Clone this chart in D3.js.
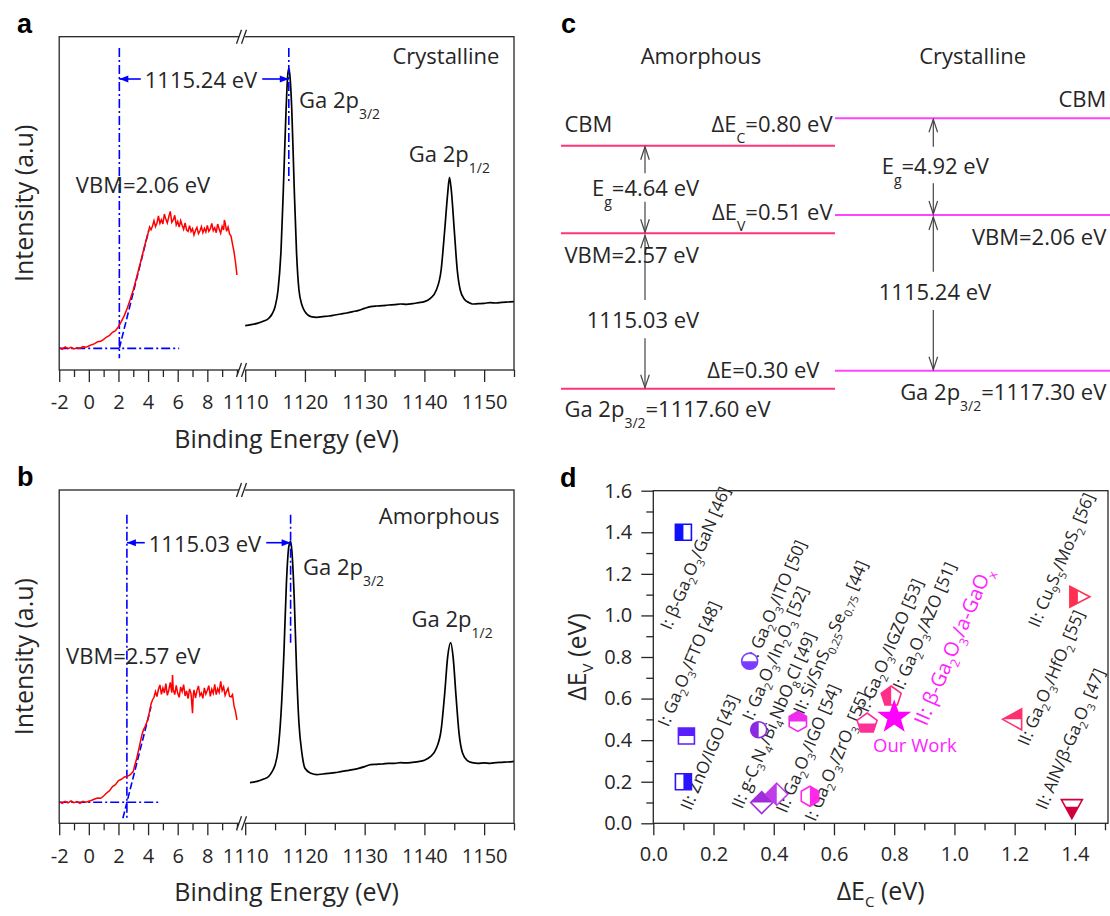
<!DOCTYPE html>
<html>
<head>
<meta charset="utf-8">
<script src="https://cdn.jsdelivr.net/npm/d3@7"></script>
<style>
  body { margin: 0; background: #fff; }
  text { font-family: "Open Sans", sans-serif; fill: #262626; white-space: pre; }
</style>
</head>
<body>
<svg id="fig" width="1110" height="916"></svg>
<script>
// ---------------- data ----------------
// valence band spectra (binding energy eV, intensity a.u.)
const vbCryst = [[-2.0,6.7],[-1.8,6.2],[-1.6,6.9],[-1.4,6.4],[-1.2,6.8],[-1.0,6.3],[-0.8,6.7],[-0.6,6.5],[-0.4,7.0],[-0.2,6.8],
  [0.0,7.2],[0.2,7.6],[0.4,7.9],[0.6,8.5],[0.8,8.6],[1.0,9.2],[1.2,9.9],[1.4,10.4],[1.6,11.3],[1.8,11.8],
  [2.0,13.0],[2.2,14.6],[2.4,16.4],[2.6,18.6],[2.8,21.2],[3.0,24.0],[3.2,27.3],[3.4,30.8],[3.6,34.2],[3.8,37.8],
  [4.0,41.0],[4.1,42.9],[4.2,42.1],[4.3,43.2],[4.4,44.8],[4.5,43.0],[4.6,44.1],[4.7,46.2],[4.8,44.0],[4.9,45.1],
  [5.0,43.8],[5.1,46.8],[5.2,45.2],[5.3,44.1],[5.4,46.0],[5.5,47.6],[5.6,44.3],[5.7,45.0],[5.8,46.4],[5.9,43.5],
  [6.0,44.6],[6.1,42.9],[6.2,44.8],[6.3,43.4],[6.4,42.2],[6.5,44.1],[6.6,42.0],[6.7,41.6],[6.8,43.3],[6.9,41.5],
  [7.0,42.4],[7.1,40.5],[7.2,41.9],[7.3,42.8],[7.4,40.9],[7.5,41.7],[7.6,43.0],[7.7,41.2],[7.8,42.5],[7.9,41.4],
  [8.0,43.4],[8.1,41.6],[8.2,42.3],[8.3,44.0],[8.4,41.8],[8.5,42.7],[8.6,41.2],[8.7,43.8],[8.8,42.2],[8.9,41.0],
  [9.0,43.1],[9.1,42.0],[9.15,45.0],[9.2,44.2],[9.3,41.6],[9.4,42.9],[9.5,40.8],[9.6,40.2],[9.7,37.8],[9.8,35.5],
  [9.9,32.4],[10.0,28.5]];
const vbAmor = [[-2.0,6.5],[-1.8,6.0],[-1.6,6.6],[-1.4,6.1],[-1.2,6.7],[-1.0,6.2],[-0.8,6.5],[-0.6,6.0],[-0.4,6.6],[-0.2,6.3],
  [0.0,6.6],[0.2,6.9],[0.4,7.3],[0.6,7.6],[0.8,7.5],[1.0,8.2],[1.2,9.1],[1.4,9.8],[1.6,11.0],[1.8,11.6],
  [2.0,12.8],[2.2,13.2],[2.4,13.9],[2.6,14.1],[2.8,14.6],[3.0,15.6],[3.1,17.4],[3.2,18.9],[3.3,20.8],[3.4,22.8],
  [3.5,24.9],[3.6,26.8],[3.7,28.2],[3.8,29.0],[3.9,30.2],[4.0,31.4],[4.1,33.6],[4.2,35.8],[4.3,37.0],[4.4,37.8],
  [4.5,39.5],[4.6,38.0],[4.7,40.2],[4.8,41.5],[4.9,38.7],[5.0,40.6],[5.1,39.1],[5.2,41.9],[5.3,38.4],[5.4,40.0],
  [5.5,42.3],[5.6,39.2],[5.65,44.5],[5.7,40.1],[5.8,38.6],[5.9,41.4],[6.0,39.0],[6.1,37.8],[6.2,40.9],[6.3,39.5],
  [6.4,41.6],[6.5,38.2],[6.6,39.7],[6.7,37.4],[6.8,40.3],[6.9,38.9],[7.0,33.0],[7.05,38.5],[7.1,40.0],[7.2,37.6],
  [7.3,39.8],[7.4,41.2],[7.5,38.3],[7.6,39.1],[7.7,37.5],[7.8,40.6],[7.9,38.8],[8.0,39.9],[8.1,41.3],[8.2,38.1],
  [8.3,40.2],[8.4,39.0],[8.5,41.7],[8.6,38.6],[8.7,40.4],[8.8,39.3],[8.9,42.6],[9.0,39.8],[9.1,40.9],[9.2,38.4],
  [9.3,39.6],[9.4,40.5],[9.5,38.1],[9.6,37.9],[9.7,38.6],[9.8,35.3],[9.9,33.6],[10.0,31.0]];

// Ga 2p core level spectra
const gaCryst = [[1110,13.3],[1111,13.6],[1112,14.0],[1113,14.6],[1114,15.6],[1114.5,16.8],[1115,19.0],[1115.5,24],
  [1116,36],[1116.4,55],[1116.8,76],[1117.1,88],[1117.3,90.5],[1117.5,88],[1117.8,78],[1118.2,55],[1118.6,35],
  [1119,24],[1119.5,19.5],[1120,17.5],[1121,16.0],[1122,15.8],[1123,16.0],[1124,16.2],[1125,16.5],[1126,16.8],
  [1127,17.1],[1128,17.5],[1129,17.9],[1130,18.5],[1131,19.0],[1132,19.2],[1133,19.3],[1134,19.5],[1135,19.6],
  [1136,19.8],[1137,19.7],[1138,19.9],[1139,20.2],[1140,20.5],[1141,21.5],[1142,24],[1142.8,30],[1143.4,42],
  [1143.9,53],[1144.2,57.8],[1144.5,54],[1145,42],[1145.5,30],[1146,24],[1146.7,21.2],[1147.5,20.2],[1148,19.8],
  [1149,19.9],[1150,20.0],[1151,20.2],[1152,20.1],[1153,20.3],[1154,20.4],[1155,20.5]];
const gaAmor = [[1110.8,12.2],[1112,12.6],[1113,13.2],[1114,14.2],[1114.5,15.5],[1115,17.5],[1115.5,22],[1116,33],
  [1116.5,52],[1116.9,72],[1117.3,83],[1117.6,84.6],[1117.8,82],[1118.2,68],[1118.6,46],[1119,30],[1119.5,21],
  [1120,16.5],[1121,15],[1122,14.6],[1123,14.8],[1124,15.0],[1125,15.2],[1126,15.5],[1127,15.8],[1128,16.1],
  [1129,16.5],[1130,17.0],[1131,17.6],[1132,17.7],[1133,17.8],[1134,18.0],[1135,18.0],[1136,18.2],[1137,18.1],
  [1138,18.3],[1139,18.5],[1140,18.9],[1141,20.0],[1142,22.5],[1142.8,28],[1143.4,39],[1143.9,50],[1144.4,54.2],
  [1144.8,50],[1145.3,38],[1145.8,27],[1146.4,21],[1147.2,18.8],[1148,18.2],[1149,18.0],[1150,18.1],[1151,18.0],
  [1152,18.2],[1153,18.3],[1154,18.4],[1155,18.6]];

const lowTicks = [-2, 0, 2, 4, 6, 8];
const lowMinor = [-1, 1, 3, 5, 7, 9, 10];
const highTicks = [1110, 1120, 1130, 1140, 1150];
const highMinor = [1115, 1125, 1135, 1145, 1155];

// fitted values
const vbmCryst = 2.06, vbmAmor = 2.57;
const peakCryst = 1117.30, peakAmor = 1117.60;
const sepCryst = 1115.24, sepAmor = 1115.03;
const egCryst = 4.92, egAmor = 4.64;
const offsetsC = [0.80, 0.51, 0.30];     // dEc, dEv, dE(core)
// tangent fits [[E,I],[E,I]] and baselines [level, Emax]
const fitCryst = [[2.06, 6.5], [4.05, 42]];
const fitAmor = [[2.30, 1.5], [4.20, 35]];
const baseCryst = [6.5, 6.1], baseAmor = [6.3, 4.7];

// panel d: band offsets of heterojunctions
const dEc = [0.10, 0.11, 0.10, 0.32, 0.35, 0.36, 0.41, 0.48, 0.52, 0.71, 0.79, 0.80, 1.20, 1.41, 1.39];
const dEv = [1.40, 0.42, 0.20, 0.78, 0.45, 0.10, 0.14, 0.49, 0.13, 0.48, 0.61, 0.51, 0.50, 1.09, 0.08];
const dShape = ["square","square","square","circle","circle","diamond","diamond","hexagon","hexagon",
  "pentagon","pentagon","star","triL","triR","triD"];
const dHalf = ["left","top","right","bottom","left","top","left","top","right","bottom","left","full","top","left","bottom"];
const dColor = ["#1010ff","#5a1eff","#2a14ff","#7a3cff","#8a2be2","#a02ddc","#c03ce8","#ee2cee","#ff2ae6",
  "#ff2f9a","#ff2e86","#ff00ff","#ff3070","#ff3050","#d0003c"];
const dLabels = ["I: β-Ga_{2}O_{3}/GaN [46]", "I: Ga_{2}O_{3}/FTO [48]", "II: ZnO/IGO [43]",
  "I: Ga_{2}O_{3}/ITO [50]", "I: Ga_{2}O_{3}/In_{2}O_{3} [52]", "II: g-C_{3}N_{4}/Bi_{4}NbO_{8}Cl [49]",
  "II: Ga_{2}O_{3}/IGO [54]", "II: Si/SnS_{0.25}Se_{0.75} [44]", "I: Ga_{2}O_{3}/ZrO_{3} [55]",
  "I: Ga_{2}O_{3}/IGZO [53]", "I: Ga_{2}O_{3}/AZO [51]", "II: β-Ga_{2}O_{3}/a-GaO_{x}",
  "II: Cu_{9}S_{5}/MoS_{2} [56]", "II: Ga_{2}O_{3}/HfO_{2} [55]", "II: AlN/β-Ga_{2}O_{3} [47]"];
const dLabelAt = [[0.058,0.926],[0.05,0.46],[0.125,0.058],[0.341,0.772],[0.33,0.49],[0.295,0.065],
  [0.442,0.045],[0.5,0.52],[0.538,0.005],[0.713,0.53],[0.83,0.638],[0.907,0.465],[1.28,0.937],[1.245,0.368],[1.305,0.06]];
const dTicks = [0, 0.2, 0.4, 0.6, 0.8, 1.0, 1.2, 1.4];
const dTicksY = [0, 0.2, 0.4, 0.6, 0.8, 1.0, 1.2, 1.4, 1.6];

// ---------------- helpers ----------------
const svg = d3.select("#fig");
const ink = "#262626";

function rich(g, str, o) {
  const t = g.append("text")
    .attr("x", o.x || 0).attr("y", o.y || 0)
    .attr("font-size", o.size)
    .attr("text-anchor", o.anchor || "start");
  if (o.fill) t.style("fill", o.fill);
  if (o.transform) t.attr("transform", o.transform);
  let down = false;
  str.split(/(_\{[^}]*\})/).forEach(p => {
    if (!p) return;
    const isSub = p.startsWith("_{");
    const s = t.append("tspan").text(isSub ? p.slice(2, -1) : p);
    if (isSub) { s.attr("font-size", o.sub).attr("dy", o.dy); down = true; }
    else if (down) { s.attr("dy", -o.dy); down = false; }
  });
  return t;
}

function styleAxis(g, size) {
  g.select(".domain").remove();
  g.attr("font-size", size).attr("font-family", "'Open Sans', sans-serif").attr("color", ink);
  g.selectAll(".tick line").attr("stroke-width", 1.3);
}

function breakMark(x, y) {
  const g = svg.append("g");
  g.append("polygon")
    .attr("points", `${x-6},${y+7} ${x-1},${y-7} ${x+5},${y-7} ${x},${y+7}`)
    .attr("fill", "#fff");
  [-3, 2].forEach(dx => g.append("line")
    .attr("x1", x + dx - 3).attr("y1", y + 7).attr("x2", x + dx + 2).attr("y2", y - 7)
    .attr("stroke", ink).attr("stroke-width", 1.3));
}

// ---------------- panels a & b ----------------
const xLo = d3.scaleLinear().domain([-2, 10.3]).range([59.2, 241.4]);
const xHi = d3.scaleLinear().domain([1110, 1155]).range([245.2, 514]);

function xpsPanel(p) {
  const y = d3.scaleLinear().domain([0, 100]).range([p.bottom, p.top]);
  const g = svg.append("g");
  const dash = "9,3,2,3";

  // core level spectrum
  g.append("path").datum(p.ga)
    .attr("fill", "none").attr("stroke", "#000").attr("stroke-width", 1.7)
    .attr("d", d3.line().x(d => xHi(d[0])).y(d => y(d[1])).curve(d3.curveMonotoneX));

  // blue guide lines
  const blue = g.append("g").attr("stroke", "#0000ff").attr("stroke-width", 1.6).attr("fill", "none");
  blue.append("line").attr("x1", xLo(p.vbm)).attr("x2", xLo(p.vbm))
    .attr("y1", y(p.vTop)).attr("y2", y(p.vBot)).attr("stroke-dasharray", dash);
  blue.append("line").attr("x1", xHi(p.peak)).attr("x2", xHi(p.peak))
    .attr("y1", y(p.vTop)).attr("y2", y(p.pBot)).attr("stroke-dasharray", dash);
  blue.append("line").attr("x1", xLo(-2)).attr("x2", xLo(p.base[1]))
    .attr("y1", y(p.base[0])).attr("y2", y(p.base[0])).attr("stroke-dasharray", dash);
  blue.append("line").attr("x1", xLo(p.fit[0][0])).attr("y1", y(p.fit[0][1]))
    .attr("x2", xLo(p.fit[1][0])).attr("y2", y(p.fit[1][1])).attr("stroke-dasharray", "7,3");

  // valence band spectrum
  g.append("path").datum(p.vb)
    .attr("fill", "none").attr("stroke", "#ff0000").attr("stroke-width", 1.5)
    .attr("d", d3.line().x(d => xLo(d[0])).y(d => y(d[1])));

  // separation arrow
  const ay = p.arrowY;
  const lab = g.append("text").attr("x", p.sepX).attr("y", ay + 9).attr("font-size", 22)
    .attr("text-anchor", "middle").text(p.sep.toFixed(2) + " eV");
  const w = lab.node().getComputedTextLength();
  const xl = xLo(p.vbm), xr = xHi(p.peak);
  g.append("line").attr("x1", xl).attr("x2", p.sepX - w / 2 - 4).attr("y1", ay).attr("y2", ay)
    .attr("stroke", "#0000ff").attr("stroke-width", 1.6);
  g.append("line").attr("x1", p.sepX + w / 2 + 5).attr("x2", xr).attr("y1", ay).attr("y2", ay)
    .attr("stroke", "#0000ff").attr("stroke-width", 1.6);
  g.append("path").attr("d", `M${xl},${ay} l9,-3.5 l0,7 z`).attr("fill", "#0000ff");
  g.append("path").attr("d", `M${xr},${ay} l-9,-3.5 l0,7 z`).attr("fill", "#0000ff");

  // annotations
  g.append("text").attr("x", 499.4).attr("y", p.titleY).attr("font-size", 22)
    .attr("text-anchor", "end").text(p.title);
  g.append("text").attr("x", p.vbmLab[0]).attr("y", p.vbmLab[1]).attr("font-size", 22)
    .text("VBM=" + p.vbm.toFixed(2) + " eV");
  rich(g, "Ga 2p_{3/2}", { x: p.ga32[0], y: p.ga32[1], size: 22, sub: 14, dy: 11 });
  rich(g, "Ga 2p_{1/2}", { x: p.ga12[0], y: p.ga12[1], size: 22, sub: 14, dy: 11 });

  // frame, ticks, break
  g.append("rect").attr("x", 59.2).attr("y", p.top).attr("width", 514 - 59.2).attr("height", p.bottom - p.top)
    .attr("fill", "none").attr("stroke", ink).attr("stroke-width", 1.3);
  const fmt = d => String(d);
  const a1 = g.append("g").attr("transform", `translate(0,${p.bottom})`)
    .call(d3.axisBottom(xLo).tickValues(lowTicks).tickSize(12).tickPadding(p.pad).tickFormat(fmt));
  const a2 = g.append("g").attr("transform", `translate(0,${p.bottom})`)
    .call(d3.axisBottom(xLo).tickValues(lowMinor).tickSize(7).tickFormat(""));
  const a3 = g.append("g").attr("transform", `translate(0,${p.bottom})`)
    .call(d3.axisBottom(xHi).tickValues(highTicks).tickSize(12).tickPadding(p.pad).tickFormat(fmt));
  const a4 = g.append("g").attr("transform", `translate(0,${p.bottom})`)
    .call(d3.axisBottom(xHi).tickValues(highMinor).tickSize(7).tickFormat(""));
  [a1, a2, a3, a4].forEach(a => styleAxis(a, 20));
  breakMark(242.5, p.top);
  breakMark(242.5, p.bottom);

  // axis titles
  g.append("text").attr("x", 286.6).attr("y", p.bottom + 78).attr("font-size", 25)
    .attr("text-anchor", "middle").text("Binding Energy (eV)");
  g.append("text").attr("transform", `translate(33,${(p.top + p.bottom) / 2}) rotate(-90)`)
    .attr("font-size", 25).attr("text-anchor", "middle").text("Intensity (a.u)");
  svg.append("text").attr("x", 17).attr("y", p.top - 4).attr("font-size", 27)
    .attr("font-weight", "bold").style("font-family", "Liberation Sans, Arial, sans-serif")
    .style("fill", "#000").text(p.letter);
}

xpsPanel({ letter: "a", top: 36.7, bottom: 370, vb: vbCryst, ga: gaCryst, vbm: vbmCryst, peak: peakCryst,
  sep: sepCryst, fit: fitCryst, base: baseCryst, vTop: 96.6, vBot: 3.5, pBot: 56, arrowY: 79, sepX: 201,
  title: "Crystalline", titleY: 64, vbmLab: [75.8, 193], ga32: [299, 108], ga12: [408.8, 162], pad: 13 });
xpsPanel({ letter: "b", top: 490, bottom: 823.3, vb: vbAmor, ga: gaAmor, vbm: vbmAmor, peak: peakAmor,
  sep: sepAmor, fit: fitAmor, base: baseAmor, vTop: 92.6, vBot: 1.5, pBot: 53.5, arrowY: 542.7, sepX: 205,
  title: "Amorphous", titleY: 524, vbmLab: [66.1, 664], ga32: [303, 575], ga12: [411.6, 626.7], pad: 13.5 });

// ---------------- panel c: band diagram ----------------
(function () {
  const g = svg.append("g");
  const amorCol = "#ff3377", crystCol = "#ff44ff";
  const A = { x0: 561, x1: 835, cbm: 145.7, vbm: 233.3, ga: 388.7, ax: 645 };
  const C = { x0: 835, x1: 1110, cbm: 118.3, vbm: 215, ga: 370.7, ax: 933.3 };
  [[A, amorCol], [C, crystCol]].forEach(([L, col]) => {
    [L.cbm, L.vbm, L.ga].forEach(yy => g.append("line")
      .attr("x1", L.x0).attr("x2", L.x1).attr("y1", yy).attr("y2", yy)
      .attr("stroke", col).attr("stroke-width", 2));
  });
  function arrowSeg(x, y1, y2, headAt) {
    g.append("line").attr("x1", x).attr("x2", x).attr("y1", y1).attr("y2", y2)
      .attr("stroke", "#444").attr("stroke-width", 1.2);
    const t = headAt === "top" ? y1 : y2, s = headAt === "top" ? 13 : -13;
    g.append("path").attr("d", `M${x - 4.3},${t + s} L${x},${t} L${x + 4.3},${t + s}`)
      .attr("fill", "none").attr("stroke", "#444").attr("stroke-width", 1.2);
  }
  arrowSeg(A.ax, A.cbm + 1, 173.3, "top");
  arrowSeg(A.ax, 201.7, A.vbm - 1, "bottom");
  arrowSeg(A.ax, A.vbm + 2, 300, "top");
  arrowSeg(A.ax, 338.3, A.ga - 1, "bottom");
  arrowSeg(C.ax, C.cbm + 1, 146.7, "top");
  arrowSeg(C.ax, 183.3, C.vbm - 1, "bottom");
  arrowSeg(C.ax, C.vbm + 2, 271.7, "top");
  arrowSeg(C.ax, 310, C.ga - 1, "bottom");

  const f = v => v.toFixed(2);
  const T = (s, x, y, anchor) => rich(g, s, { x, y, size: 22, sub: 14, dy: 11, anchor });
  g.append("text").attr("x", 701).attr("y", 64).attr("font-size", 22).attr("text-anchor", "middle").text("Amorphous");
  g.append("text").attr("x", 972.6).attr("y", 64).attr("font-size", 22).attr("text-anchor", "middle").text("Crystalline");
  T("CBM", 564.4, 132.3);
  T("ΔE_{C}=" + f(offsetsC[0]) + " eV", 832.6, 132.3, "end");
  T("E_{g}=" + f(egAmor) + " eV", 592, 195.7);
  T("ΔE_{V}=" + f(offsetsC[1]) + " eV", 832.6, 220, "end");
  T("VBM=" + f(vbmAmor) + " eV", 564.4, 263.3);
  T(f(sepAmor) + " eV", 643, 328.3, "middle");
  T("ΔE=" + f(offsetsC[2]) + " eV", 707.2, 378.3);
  T("Ga 2p_{3/2}=" + f(peakAmor) + " eV", 564.4, 416.7);
  T("CBM", 1106.3, 106.7, "end");
  T("E_{g}=" + f(egCryst) + " eV", 881.7, 174);
  T("VBM=" + f(vbmCryst) + " eV", 1106.3, 245, "end");
  T(f(sepCryst) + " eV", 935, 300, "middle");
  T("Ga 2p_{3/2}=" + f(peakCryst) + " eV", 1106.3, 400, "end");
  svg.append("text").attr("x", 561).attr("y", 33).attr("font-size", 27).attr("font-weight", "bold")
    .style("font-family", "Liberation Sans, Arial, sans-serif").style("fill", "#000").text("c");
})();

// ---------------- panel d: band offset map ----------------
(function () {
  const left = 653.3, right = 1108, top = 490.7, bottom = 823.3;
  const x = d3.scaleLinear().domain([0, 1.51]).range([left, right]);
  const y = d3.scaleLinear().domain([0, 1.6]).range([bottom, top]);
  const g = svg.append("g");

  const xMaj = g.append("g").attr("transform", `translate(0,${bottom})`)
    .call(d3.axisBottom(x).tickValues(dTicks).tickSize(12).tickPadding(12).tickFormat(d3.format(".1f")));
  const xMin = g.append("g").attr("transform", `translate(0,${bottom})`)
    .call(d3.axisBottom(x).tickValues([0.1, 0.3, 0.5, 0.7, 0.9, 1.1, 1.3, 1.5]).tickSize(7).tickFormat(""));
  const yMaj = g.append("g").attr("transform", `translate(${left},0)`)
    .call(d3.axisLeft(y).tickValues(dTicksY).tickSize(12).tickPadding(9).tickFormat(d3.format(".1f")));
  const yMin = g.append("g").attr("transform", `translate(${left},0)`)
    .call(d3.axisLeft(y).tickValues([0.1, 0.3, 0.5, 0.7, 0.9, 1.1, 1.3, 1.5]).tickSize(7).tickFormat(""));
  [xMaj, xMin, yMaj, yMin].forEach(a => styleAxis(a, 20));

  g.append("rect").attr("x", left).attr("y", top).attr("width", right - left).attr("height", bottom - top)
    .attr("fill", "none").attr("stroke", ink).attr("stroke-width", 1.3);

  // labels
  dLabels.forEach((s, i) => {
    const ours = i === 11;
    rich(g, s, {
      size: ours ? 20 : 17, sub: ours ? 12.5 : 11, dy: ours ? 6 : 5,
      fill: ours ? "#ff22ff" : ink,
      transform: `translate(${x(dLabelAt[i][0])},${y(dLabelAt[i][1])}) rotate(-67)`
    });
  });
  g.append("text").attr("x", x(0.73)).attr("y", y(0.344)).attr("font-size", 18.5)
    .style("fill", "#ff22ff").text("Our Work");

  // marker shapes
  const poly = pts => ({ draw(ctx) { pts.forEach((p, k) => k ? ctx.lineTo(p[0], p[1]) : ctx.moveTo(p[0], p[1])); ctx.closePath(); } });
  const ring = (n, r, rot) => d3.range(n).map(k => {
    const a = (rot + k * 360 / n) * Math.PI / 180; return [r * Math.cos(a), r * Math.sin(a)];
  });
  const starPts = d3.range(10).map(k => {
    const a = (-90 + k * 36) * Math.PI / 180, r = k % 2 ? 6.2 : 15.5;
    return [r * Math.cos(a), r * Math.sin(a)];
  });
  const shapes = {
    square: poly([[-8, -8], [8, -8], [8, 8], [-8, 8]]),
    circle: { draw(ctx) { ctx.moveTo(8, 0); ctx.arc(0, 0, 8, 0, 2 * Math.PI); ctx.closePath(); } },
    diamond: poly([[0, -11], [11, 0], [0, 11], [-11, 0]]),
    hexagon: poly(ring(6, 10, -90)),
    pentagon: poly(ring(5, 10.5, -90)),
    star: poly(starPts),
    triL: poly([[7, -10.5], [7, 10.5], [-12, 0]]),
    triR: poly([[-8, -10.5], [-8, 10.5], [12, 0]]),
    triD: poly([[-10.5, -7], [10.5, -7], [0, 12]])
  };
  const clipRect = {
    left: [-30, -30, 30, 60], right: [0, -30, 30, 60], top: [-30, -30, 60, 30],
    bottom: [-30, 0, 60, 30], full: [-30, -30, 60, 60]
  };
  const defs = svg.append("defs");
  dEc.forEach((ec, i) => {
    const id = "half" + i, r = clipRect[dHalf[i]];
    defs.append("clipPath").attr("id", id).append("rect")
      .attr("x", r[0]).attr("y", r[1]).attr("width", r[2]).attr("height", r[3]);
    const d = d3.symbol().type(shapes[dShape[i]]).size(1)();
    const m = g.append("g").attr("transform", `translate(${x(ec)},${y(dEv[i])})`);
    m.append("path").attr("d", d).attr("fill", "#fff");
    m.append("path").attr("d", d).attr("fill", dColor[i]).attr("clip-path", `url(#${id})`);
    m.append("path").attr("d", d).attr("fill", "none").attr("stroke", dColor[i]).attr("stroke-width", 1.6);
  });

  // axis titles
  rich(g, "ΔE_{C} (eV)", { x: (left + right) / 2, y: 900, size: 25, sub: 15, dy: 7, anchor: "middle" });
  rich(g, "ΔE_{V} (eV)", { size: 25, sub: 15, dy: 7, anchor: "middle",
    transform: `translate(586,${(top + bottom) / 2}) rotate(-90)` });
  svg.append("text").attr("x", 560).attr("y", 487).attr("font-size", 27).attr("font-weight", "bold")
    .style("font-family", "Liberation Sans, Arial, sans-serif").style("fill", "#000").text("d");
})();
</script>
</body>
</html>
